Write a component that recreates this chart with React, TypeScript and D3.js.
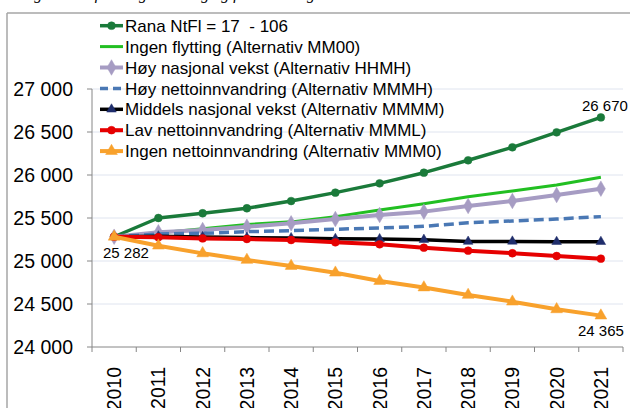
import React from "react";
import * as d3 from "d3";

const years = ["2010","2011","2012","2013","2014","2015","2016","2017","2018","2019","2020","2021"];

const rana = [25282,25500,25555,25613,25697,25795,25903,26027,26171,26322,26496,26670];
const ingenFlytting = [25282,25327,25375,25425,25455,25516,25593,25665,25748,25814,25884,25973];
const hoyNasjonal = [25282,25334,25360,25399,25438,25488,25535,25574,25640,25698,25767,25841];
const hoyNetto = [25282,25314,25322,25341,25353,25369,25384,25403,25445,25465,25488,25516];
const middels = [25282,25288,25280,25272,25268,25259,25256,25248,25226,25228,25224,25224];
const lav = [25282,25277,25263,25256,25244,25217,25194,25155,25120,25090,25058,25027];
const ingenNetto = [25282,25178,25089,25012,24942,24864,24767,24692,24605,24527,24438,24365];

const yTicks = [24000,24500,25000,25500,26000,26500,27000];

const seriesNames = [
  "Rana NtFl = 17  - 106",
  "Ingen flytting (Alternativ MM00)",
  "Høy nasjonal vekst (Alternativ HHMH)",
  "Høy nettoinnvandring (Alternativ MMMH)",
  "Middels nasjonal vekst (Alternativ MMMM)",
  "Lav nettoinnvandring (Alternativ MMML)",
  "Ingen nettoinnvandring (Alternativ MMM0)",
];

const titleText = "Figur 3: Befolkningsutvikling og framskriving i Rana kommune";

type S = {
  name: string; values: number[]; color: string; width: number;
  dash?: string; marker?: any; markerSize?: number; markerColor?: string;
};

const series: S[] = [
  { name: seriesNames[0], values: rana, color: "#1a7a3a", width: 3.5, marker: d3.symbolCircle, markerSize: 48 },
  { name: seriesNames[1], values: ingenFlytting, color: "#22bf22", width: 3 },
  { name: seriesNames[2], values: hoyNasjonal, color: "#a69cc3", width: 4, marker: d3.symbolDiamond, markerSize: 70 },
  { name: seriesNames[3], values: hoyNetto, color: "#4a78b4", width: 3.5, dash: "10,5" },
  { name: seriesNames[4], values: middels, color: "#000000", width: 3.5, marker: d3.symbolTriangle, markerSize: 40, markerColor: "#1f2d6b" },
  { name: seriesNames[5], values: lav, color: "#e60000", width: 4, marker: d3.symbolCircle, markerSize: 48 },
  { name: seriesNames[6], values: ingenNetto, color: "#f8a12c", width: 4, marker: d3.symbolTriangle, markerSize: 60 },
];

export default function App() {
  const W = 630, H = 408;
  const x = d3.scaleBand<string>().domain(years).range([92, 623]);
  const y = d3.scaleLinear().domain([24000, 27000]).range([347, 89]);
  const cx = (yr: string) => (x(yr) as number) + x.bandwidth() / 2;
  const line = d3.line<number>().x((_, i) => cx(years[i])).y((v) => y(v));
  const fmt = (v: number) => d3.format(",")(v).replace(/,/g, " ");
  const font = "'Liberation Sans', Arial, sans-serif";
  const boundaries = years.map((yr) => x(yr) as number).concat([x.range()[1]]);
  const lastI = years.length - 1;

  return (
    <svg width={W} height={H} style={{ position: "absolute", left: 0, top: 0, background: "#fff" }} fontFamily={font}>
      <text x={20} y={-0.8} fontFamily="'Liberation Serif', 'Times New Roman', serif" fontStyle="italic" fontSize={16} fill="#000">{titleText}</text>
      <line x1={7} x2={W} y1={13} y2={13} stroke="#a6a6a6" strokeWidth={1.5} />
      <line x1={7} x2={7} y1={13} y2={H} stroke="#a6a6a6" strokeWidth={1.5} />

      {yTicks.map((t) => (
        <g key={t}>
          {t > 24000 && <line x1={92} x2={623} y1={y(t)} y2={y(t)} stroke="#dfe4ef" strokeWidth={1} />}
          <line x1={87} x2={92} y1={y(t)} y2={y(t)} stroke="#868686" strokeWidth={1} />
          <text x={73} y={y(t)} dy="0.36em" textAnchor="end" fontSize={19.5} fill="#000">{fmt(t)}</text>
        </g>
      ))}
      <line x1={92} x2={92} y1={y(27000)} y2={y(24000)} stroke="#868686" strokeWidth={1} />
      <line x1={92} x2={623} y1={y(24000)} y2={y(24000)} stroke="#868686" strokeWidth={1} />
      {boundaries.map((b, i) => (
        <line key={i} x1={b} x2={b} y1={y(24000)} y2={y(24000) + 5} stroke="#868686" strokeWidth={1} />
      ))}
      {years.map((yr) => (
        <text key={yr} transform={`translate(${cx(yr)},367) rotate(-90)`} dy="0.36em" textAnchor="end" fontSize={19.5} fill="#000">{yr}</text>
      ))}

      {series.map((s, si) => (
        <g key={si}>
          <path d={line(s.values) as string} fill="none" stroke={s.color} strokeWidth={s.width} strokeDasharray={s.dash} strokeLinejoin="round" />
          {s.marker && s.values.map((v, i) => (
            <path key={i} d={d3.symbol().type(s.marker).size(s.markerSize as number)() as string}
              transform={`translate(${cx(years[i])},${y(v)})`} fill={s.markerColor || s.color} stroke={s.markerColor || s.color} strokeWidth={0.5} />
          ))}
        </g>
      ))}

      <text x={103} y={257.5} fontSize={15} fill="#000">{fmt(rana[0])}</text>
      <text x={582} y={110.5} fontSize={15} fill="#000">{fmt(rana[lastI])}</text>
      <text x={578} y={336} fontSize={15} fill="#000">{fmt(ingenNetto[lastI])}</text>

      {series.map((s, si) => {
        const ly = 25.7 + si * 20.9;
        return (
          <g key={"l" + si}>
            <line x1={100} x2={123} y1={ly} y2={ly} stroke={s.color} strokeWidth={s.width} strokeDasharray={s.dash ? "8,5" : undefined} />
            {s.marker && (
              <path d={d3.symbol().type(s.marker).size(s.markerSize as number)() as string}
                transform={`translate(111.5,${ly})`} fill={s.markerColor || s.color} stroke={s.markerColor || s.color} strokeWidth={0.5} />
            )}
            <text x={125} y={ly} dy="0.36em" fontSize={17} fill="#000" style={{ whiteSpace: "pre" }}>{s.name}</text>
          </g>
        );
      })}
    </svg>
  );
}
